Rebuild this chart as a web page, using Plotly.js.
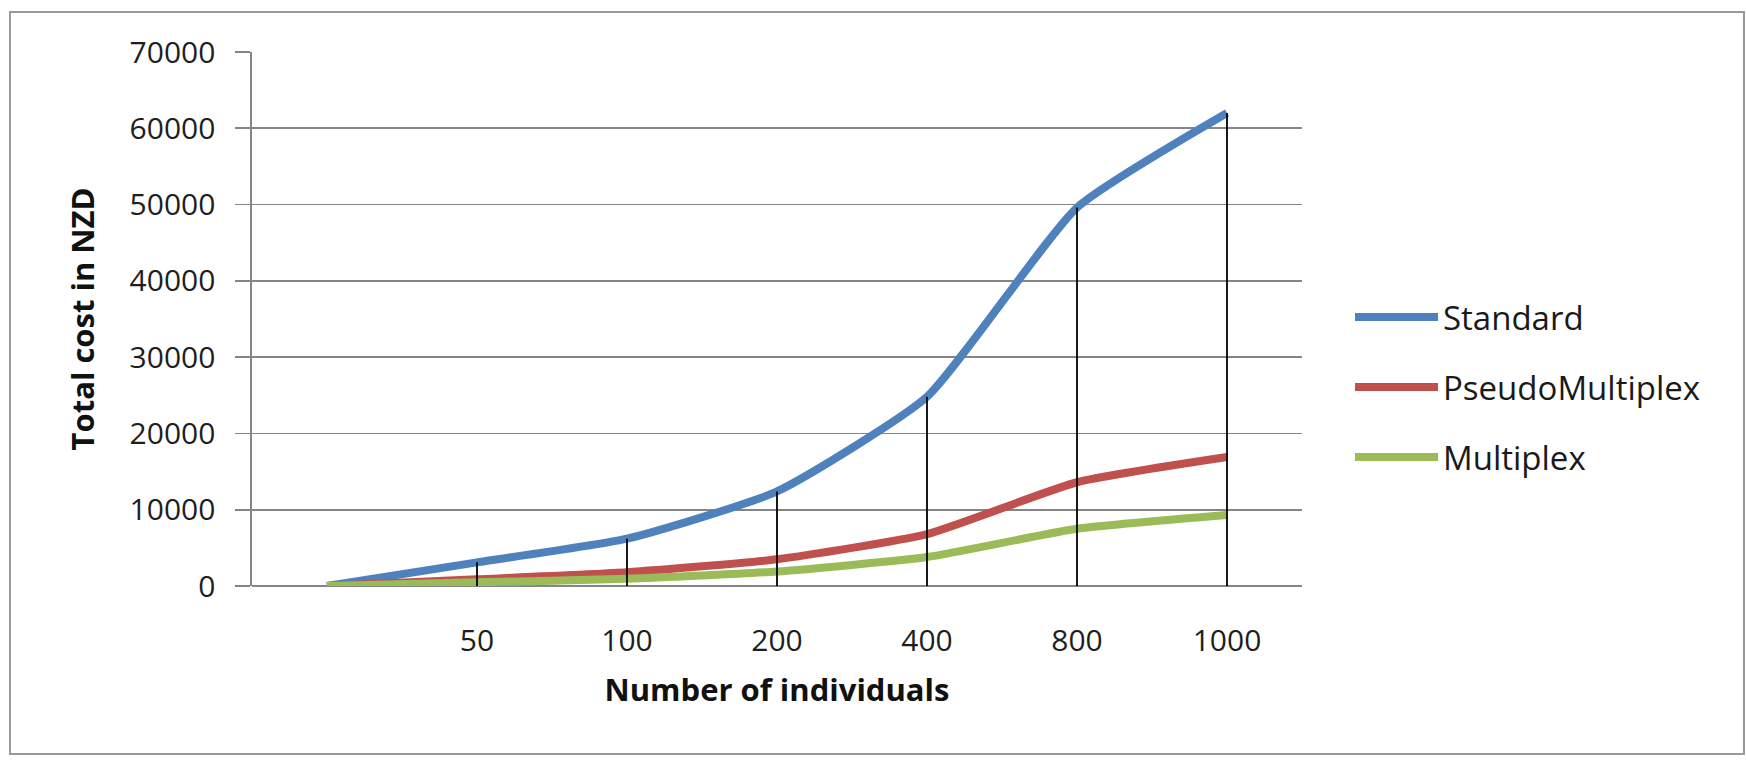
<!DOCTYPE html>
<html>
<head>
<meta charset="utf-8">
<script src="https://cdn.plot.ly/plotly-3.0.1.min.js"></script>
<style>
  html, body { margin: 0; padding: 0; background: #fff; }
  #wrap { position: relative; width: 1746px; height: 761px; }
  #chart { width: 1746px; height: 761px; }
  #frame { position: absolute; left: 9px; top: 11px; width: 1732px; height: 740px;
           border: 2px solid #9a9a9a; pointer-events: none; }
</style>
</head>
<body>
<div id="wrap">
  <div id="chart"></div>
  <div id="frame"></div>
</div>
<script>
// ---- data ----
const xLabels = ["", "50", "100", "200", "400", "800", "1000"];
const standard = [0, 3100, 6200, 12400, 24800, 49600, 62000];
const pseudoMultiplex = [0, 880, 1800, 3500, 6800, 13600, 16900];
const multiplex = [0, 480, 950, 1900, 3800, 7500, 9300];
const seriesNames = ["Standard", "PseudoMultiplex", "Multiplex"];
const seriesColors = ["#4F81BD", "#C0504D", "#9BBB59"];
const seriesValues = [standard, pseudoMultiplex, multiplex];

const xIdx = xLabels.map((_, i) => i);
const FONT = "Open Sans, Noto Sans, sans-serif";

const traces = seriesValues.map((vals, s) => ({
  x: xIdx,
  y: vals,
  type: "scatter",
  mode: "lines",
  name: seriesNames[s],
  line: { color: seriesColors[s], width: 8, shape: "spline", smoothing: 0.5 },
  showlegend: false,
  hoverinfo: "x+y+name"
}));

// drop lines: from the highest point of each category down to the axis
const dropX = [], dropY = [];
xIdx.forEach(i => {
  const top = Math.max(...seriesValues.map(v => v[i]));
  if (top > 0) { dropX.push(i, i, null); dropY.push(0, top, null); }
});
traces.push({
  x: dropX, y: dropY, type: "scatter", mode: "lines",
  line: { color: "#000", width: 1.8 }, showlegend: false, hoverinfo: "skip"
});

// custom legend (long line samples like the reference)
const L = 252, R = 444, T = 52, B = 175, W = 1746, H = 761;
const pw = W - L - R, ph = H - T - B;
const px = v => (v - L) / pw;
const py = v => (H - B - v) / ph;
const shapes = [], annotations = [];
seriesNames.forEach((nm, s) => {
  const yc = 317 + 70 * s;
  shapes.push({ type: "line", xref: "paper", yref: "paper",
    x0: px(1355), x1: px(1438), y0: py(yc), y1: py(yc),
    line: { color: seriesColors[s], width: 8 } });
  annotations.push({ xref: "paper", yref: "paper", x: px(1441), y: py(yc),
    xanchor: "left", yanchor: "middle", showarrow: false, text: nm,
    font: { family: FONT, size: 33, color: "#1a1a1a" } });
});

const layout = {
  width: W, height: H,
  margin: { l: L, r: R, t: T, b: B, pad: 0 },
  paper_bgcolor: "#fff", plot_bgcolor: "#fff",
  showlegend: false,
  font: { family: FONT, color: "#222" },
  xaxis: {
    range: [-0.5, xLabels.length - 0.5],
    tickmode: "array", tickvals: xIdx, ticktext: xLabels,
    showgrid: false, zeroline: false,
    showline: false, ticks: "",
    ticklabelstandoff: 34,
    tickfont: { family: FONT, size: 30, color: "#1e1e1e" },
    title: { text: "<b>Number of individuals</b>", standoff: 20,
             font: { family: FONT, size: 31, color: "#111" } },
    fixedrange: true
  },
  yaxis: {
    range: [0, 70000], dtick: 10000, tick0: 0,
    showgrid: true, gridcolor: "#858585", gridwidth: 1.6,
    zeroline: true, zerolinecolor: "#858585", zerolinewidth: 1.6,
    showline: true, linecolor: "#858585", linewidth: 1.6,
    ticks: "outside", ticklen: 15, tickcolor: "#858585", tickwidth: 1.6,
    ticklabelstandoff: 14,
    tickformat: "d",
    tickfont: { family: FONT, size: 30, color: "#1e1e1e" },
    title: { text: "<b>Total cost in NZD</b>", standoff: 26,
             font: { family: FONT, size: 31, color: "#111" } },
    fixedrange: true
  },
  shapes: shapes,
  annotations: annotations
};

Plotly.newPlot("chart", traces, layout, { displayModeBar: false, staticPlot: true });
</script>
</body>
</html>
